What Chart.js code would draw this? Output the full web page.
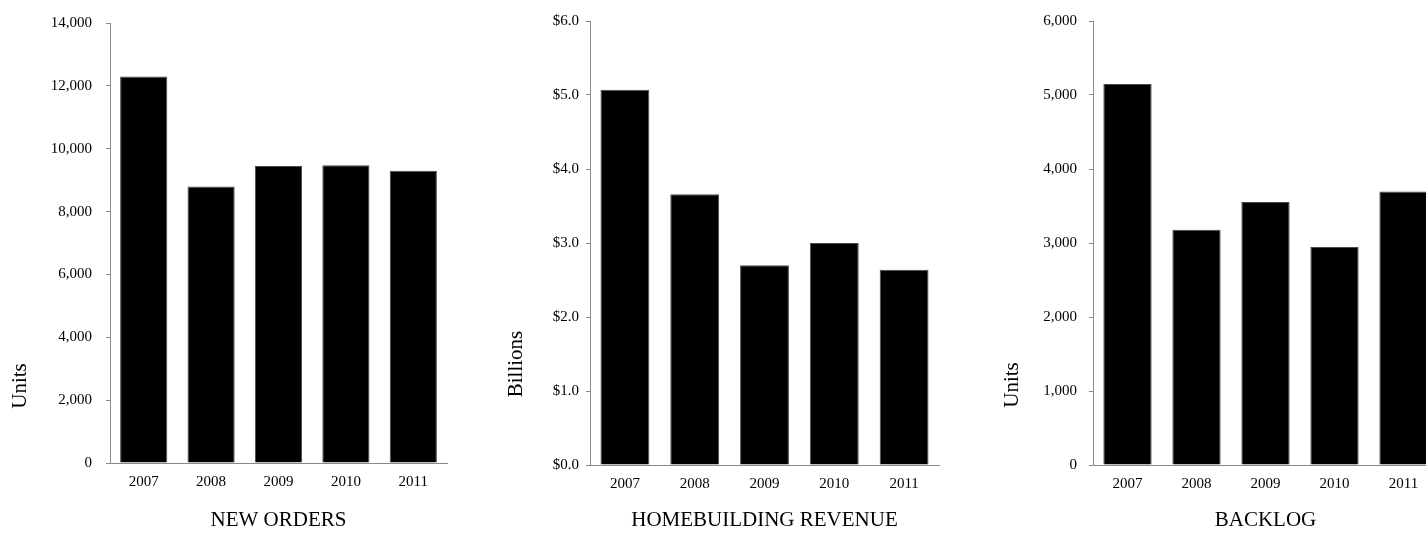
<!DOCTYPE html>
<html><head><meta charset="utf-8">
<script src="https://cdn.jsdelivr.net/npm/chart.js@4/dist/chart.umd.min.js"></script>
<style>
html,body{margin:0;padding:0;width:1426px;height:538px;overflow:hidden;background:#fff;}
canvas{position:absolute;top:0;}
</style></head><body>
<canvas id="c1" width="470" height="538" style="left:0px"></canvas>
<canvas id="c2" width="480" height="538" style="left:480px"></canvas>
<canvas id="c3" width="500" height="538" style="left:960px"></canvas>
<script>
// ---- data ----
const years = ['2007', '2008', '2009', '2010', '2011'];
const newOrders = [12300, 8800, 9450, 9470, 9300];
const revenueBillions = [5.07, 3.66, 2.70, 3.00, 2.64];
const backlog = [5150, 3180, 3555, 2945, 3695];
const newOrdersAxis = [0, 14000, 2000];
const revenueAxis = [0, 6, 1];
const backlogAxis = [0, 6000, 1000];
const titles = ['NEW ORDERS', 'HOMEBUILDING REVENUE', 'BACKLOG'];
const yTitles = ['Units', 'Billions', 'Units'];

const FONT = '"Liberation Serif", "Times New Roman", serif';
const AXIS = '#8a8a8a';

const yTitlePlugin = {
  id: 'yTitle',
  afterDraw(chart, args, opts) {
    const ctx = chart.ctx;
    ctx.save();
    ctx.translate(opts.x, opts.y);
    ctx.rotate(-Math.PI / 2);
    ctx.font = '21px ' + FONT;
    ctx.fillStyle = '#000';
    ctx.textAlign = 'center';
    ctx.textBaseline = 'middle';
    ctx.fillText(opts.text, 0, 0);
    ctx.restore();
  }
};

function make(id, values, axis, fmt, xTitle, yTitle, lay) {
  new Chart(document.getElementById(id), {
    type: 'bar',
    data: {
      labels: years,
      datasets: [{
        data: values,
        backgroundColor: '#000',
        borderColor: '#4a4a4a',
        borderWidth: 1,
        categoryPercentage: 1,
        barPercentage: 0.7
      }]
    },
    plugins: [yTitlePlugin],
    options: {
      responsive: false,
      animation: false,
      layout: { padding: { left: 0, right: lay.padRight, top: lay.top, bottom: 0 } },
      plugins: {
        legend: { display: false },
        tooltip: { enabled: false },
        yTitle: { text: yTitle, x: lay.tx, y: lay.ty }
      },
      scales: {
        x: {
          grid: { display: true, drawOnChartArea: false, drawTicks: false },
          border: { display: true, color: AXIS, width: 1 },
          ticks: { color: '#000', font: { family: FONT, size: 15 }, padding: 10 },
          title: { display: true, text: xTitle, color: '#000', font: { family: FONT, size: 21 }, padding: { top: 0, bottom: 5 } },
          afterFit: (s) => { s.height = lay.xh; }
        },
        y: {
          min: axis[0], max: axis[1],
          grid: { display: true, drawOnChartArea: false, drawTicks: true, tickLength: 4, color: AXIS },
          border: { display: true, color: AXIS, width: 1 },
          ticks: { stepSize: axis[2], color: '#000', font: { family: FONT, size: 15 }, padding: lay.tp, callback: fmt },
          afterFit: (s) => { s.width = lay.yw; }
        }
      }
    }
  });
}

const comma = (v) => Number(v).toLocaleString('en-US');
const dollars = (v) => '$' + Number(v).toFixed(1);

make('c1', newOrders, newOrdersAxis, comma, titles[0], yTitles[0],
  { padRight: 23, top: 21, xh: 75, yw: 110, tp: 14, tx: 20, ty: 386 });
make('c2', revenueBillions, revenueAxis, dollars, titles[1], yTitles[1],
  { padRight: 21, top: 21, xh: 73, yw: 110, tp: 7, tx: 36, ty: 364 });
make('c3', backlog, backlogAxis, comma, titles[2], yTitles[2],
  { padRight: 22, top: 21, xh: 73, yw: 133, tp: 12, tx: 52, ty: 385 });
</script>
</body></html>
